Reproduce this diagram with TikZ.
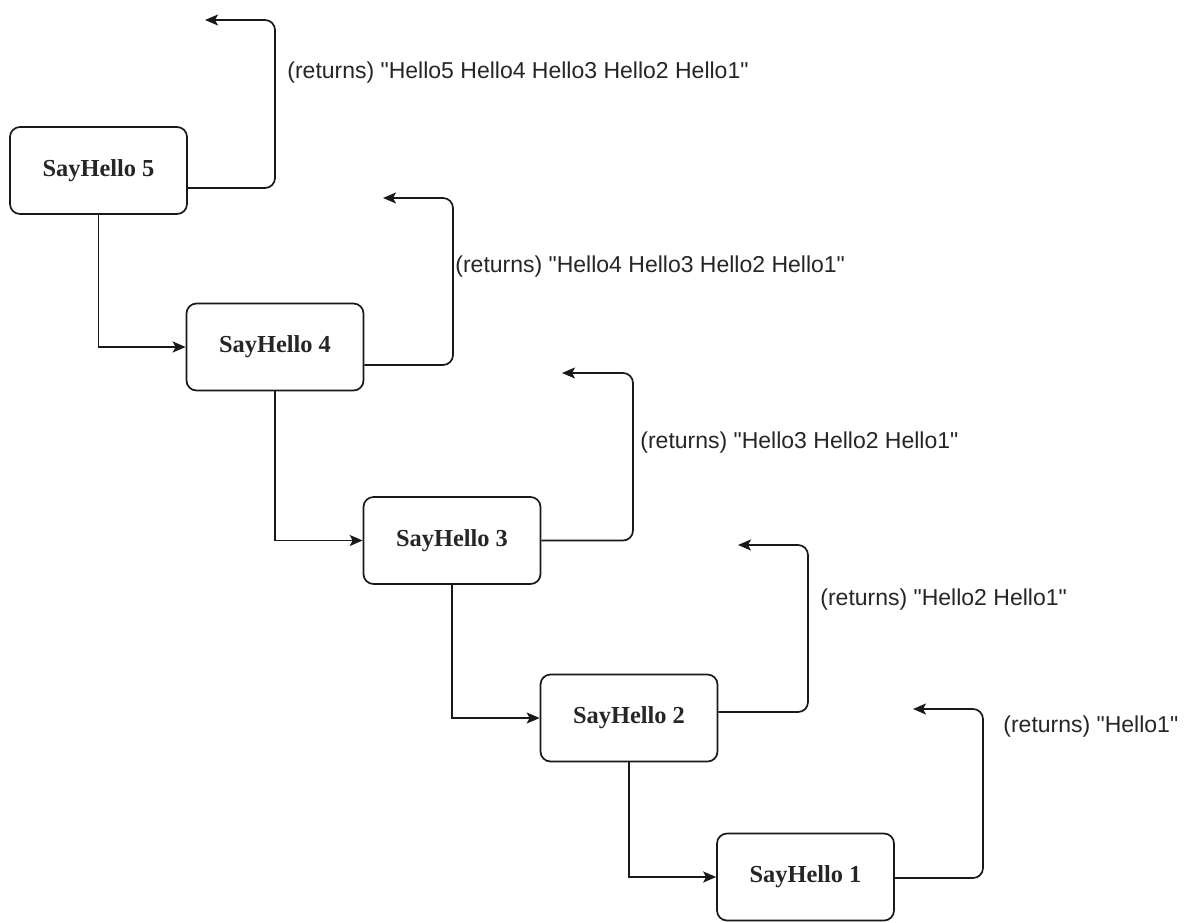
\documentclass[tikz,border=0pt]{standalone}
\usepackage{fontspec}
\setmainfont{Liberation Serif}
\newfontfamily\labelfont{Liberation Sans}
\usetikzlibrary{arrows.meta,calc}
\begin{document}
\begin{tikzpicture}[x=0.5pt,y=-0.5pt,
  box/.style={draw=black!90, rounded corners=5pt, line width=0.85pt, minimum width=88.5pt, minimum height=43.5pt, inner sep=0pt, text=black!85, font=\fontsize{12.2}{14}\selectfont\bfseries},
  link/.style={draw=black!90, line width=0.85pt, -{Stealth[length=6.5pt,width=5.5pt,inset=1.5pt]}},
  ret/.style={link, rounded corners=5pt},
  lbl/.style={anchor=west, inner sep=0pt, text=black!85, font=\labelfont\fontsize{11.5}{13}\selectfont}]
\fill[white] (0,0) rectangle (1187,922);
\useasboundingbox (0,0) rectangle (1187,922);

% boxes
\node[box] (b5) at (98.5,170.5) {SayHello 5};
\node[box] (b4) at (275,347) {SayHello 4};
\node[box] (b3) at (452,540.5) {SayHello 3};
\node[box] (b2) at (629,718) {SayHello 2};
\node[box] (b1) at (805.5,877) {SayHello 1};

% call connectors
\draw[link] (b5.south) |- (b4.west);
\draw[link] (b4.south) |- (b3.west);
\draw[link] (b3.south) |- (b2.west);
\draw[link] (b2.south) |- (b1.west);

% return connectors
\coordinate (c5) at (275,20);  \coordinate (t5) at (205,20);
\coordinate (c4) at (453,198); \coordinate (t4) at (383,198);
\coordinate (c3) at (633,373); \coordinate (t3) at (562,373);
\coordinate (c2) at (808,545); \coordinate (t2) at (738,545);
\coordinate (c1) at (983,709); \coordinate (t1) at (913,709);

\draw[ret] ($(b5.east)+(0,17.5)$) -| (c5) -- (t5);
\draw[ret] ($(b4.east)+(0,18)$) -| (c4) -- (t4);
\draw[ret] ($(b3.east)+(0,0)$) -| (c3) -- (t3);
\draw[ret] ($(b2.east)+(0,-6)$) -| (c2) -- (t2);
\draw[ret] ($(b1.east)+(0,1)$) -| (c1) -- (t1);

% labels
\node[lbl] (l5) at (287,73) {(returns) "Hello5 Hello4 Hello3 Hello2 Hello1"};
\node[lbl] (l4) at (455,267) {(returns) "Hello4 Hello3 Hello2 Hello1"};
\node[lbl] (l3) at (640,443) {(returns) "Hello3 Hello2 Hello1"};
\node[lbl] (l2) at (820,600) {(returns) "Hello2 Hello1"};
\node[lbl] (l1) at (1003,727) {(returns) "Hello1"};
\end{tikzpicture}
\end{document}
